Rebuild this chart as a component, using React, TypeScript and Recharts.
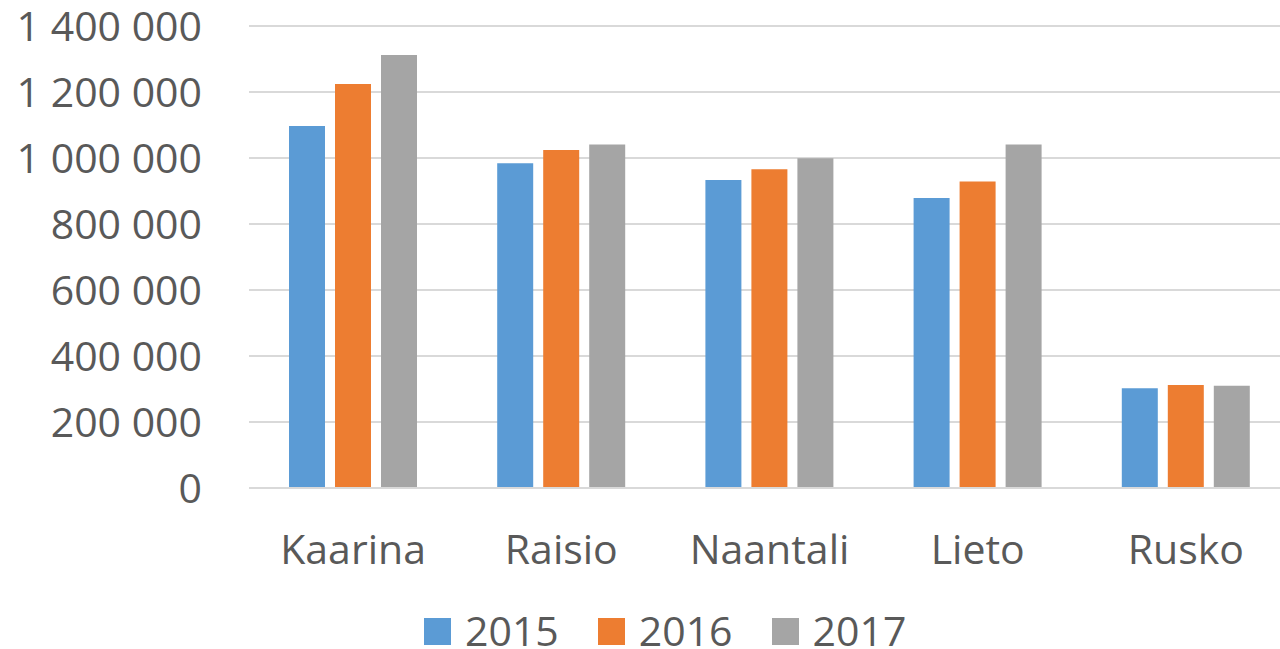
import { BarChart, Bar, XAxis, YAxis, CartesianGrid, Legend } from "recharts";

const municipalities = ["Kaarina", "Raisio", "Naantali", "Lieto", "Rusko"];
const values2015 = [1097000, 984000, 933000, 879000, 302000];
const values2016 = [1224000, 1024000, 966000, 929000, 312000];
const values2017 = [1312000, 1041000, 999000, 1041000, 310000];
const yTicks = [0, 200000, 400000, 600000, 800000, 1000000, 1200000, 1400000];

const series = [
  { key: "2015", color: "#5B9BD5" },
  { key: "2016", color: "#ED7D31" },
  { key: "2017", color: "#A5A5A5" },
];

const data = municipalities.map((name, i) => ({
  name,
  "2015": values2015[i],
  "2016": values2016[i],
  "2017": values2017[i],
}));

const FONT = "'Open Sans', sans-serif";
const TEXT = "#595959";

// finnish style grouping: 1 400 000
const fmtSpace = (v: number) => String(v).replace(/\B(?=(\d{3})+(?!\d))/g, " ");

const LegendRow = () => (
  <div style={{ height: 50, display: "flex", alignItems: "flex-start", paddingLeft: 424, boxSizing: "border-box" }}>
    {series.map((s) => (
      <div key={s.key} style={{ display: "flex", alignItems: "flex-start", marginRight: 39 }}>
        <span style={{ display: "inline-block", width: 27, height: 27, background: s.color, marginTop: 19, marginRight: 14 }} />
        <span style={{ fontFamily: FONT, fontSize: 41, lineHeight: "36px", color: TEXT, marginTop: 13 }}>{s.key}</span>
      </div>
    ))}
  </div>
);

export default function App() {
  return (
    <div style={{ position: "absolute", left: 0, top: 0, width: 1280, height: 649, background: "#fff", overflow: "hidden" }}>
      <BarChart
        width={1280}
        height={649}
        data={data}
        margin={{ top: 26, right: -10, bottom: 0, left: 0 }}
        barCategoryGap={40}
        barGap={10}
      >
        <CartesianGrid vertical={false} stroke="#D9D9D9" strokeWidth={2} />
        <XAxis
          dataKey="name"
          height={111}
          axisLine={{ stroke: "#D9D9D9", strokeWidth: 2 }}
          tickLine={false}
          tickSize={0}
          tickMargin={47}
          tick={{ fill: TEXT, fontSize: 41, fontFamily: FONT }}
        />
        <YAxis
          width={249}
          domain={[0, 1400000]}
          ticks={yTicks}
          interval={0}
          axisLine={false}
          tickLine={false}
          tickSize={0}
          tickMargin={47}
          tickFormatter={fmtSpace}
          tick={{ fill: TEXT, fontSize: 41, fontFamily: FONT }}
        />
        <Legend verticalAlign="bottom" content={() => <LegendRow />} />
        {series.map((s) => (
          <Bar key={s.key} dataKey={s.key} fill={s.color} isAnimationActive={false} />
        ))}
      </BarChart>
    </div>
  );
}
